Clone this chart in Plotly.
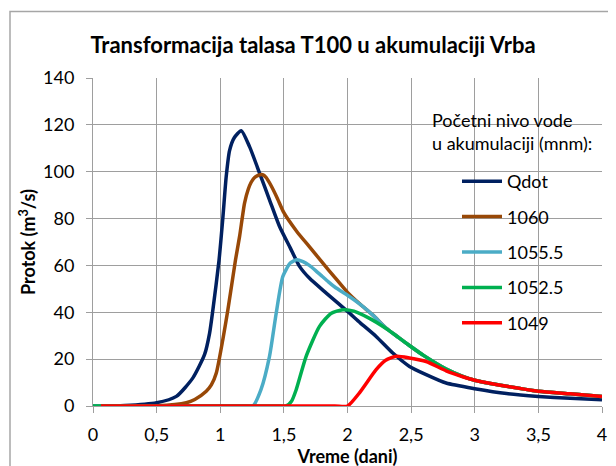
import plotly.graph_objects as go

# ---- data ----
qdot_t = [0, 0.25, 0.5, 0.655, 0.785, 0.877, 0.916, 0.942, 0.99, 1.02, 1.047, 1.073, 1.11, 1.165,
          1.23, 1.309, 1.387, 1.466, 1.55, 1.623, 1.7, 1.833, 2.0, 2.1, 2.225, 2.356, 2.487,
          2.618, 2.775, 3.0, 3.25, 3.5, 3.75, 4.0]
qdot_q = [0, 0.2, 1.4, 4.1, 12, 22, 31, 41, 62, 80, 98, 109, 114.5, 117.5,
          110.7, 99.4, 88, 76.6, 67.5, 59.6, 54.6, 48.2, 40.4, 35.5, 29.7, 22.6, 16.9,
          13.4, 9.8, 7.4, 5.3, 4.1, 3.3, 2.7]

h1060_t = [0, 0.5, 0.733, 0.8, 0.89, 0.93, 0.969, 1.02, 1.06, 1.12, 1.152, 1.191, 1.22, 1.243,
           1.27, 1.3, 1.333, 1.36, 1.4, 1.45, 1.5, 1.6, 1.7, 1.8, 1.9, 2.0, 2.1, 2.2, 2.3, 2.4,
           2.5, 2.6, 2.775, 2.9, 3.0, 3.25, 3.5, 3.75, 4.0]
h1060_q = [0, 0.1, 1.4, 2.8, 6.3, 9, 14.1, 28.3, 41.1, 62.4, 72.4, 86.6, 92.5, 95.5,
           97.5, 98.5, 98.7, 97.6, 94, 88.5, 82.5, 74.6, 68.0, 61.4, 54.9, 48.5, 43.4, 38.8, 33.4,
           29.3, 25.3, 21.5, 15.8, 12.8, 11.0, 8.4, 6.3, 5.2, 4.1]

h1055_t = [0, 1.2, 1.256, 1.32, 1.387, 1.44, 1.492, 1.55, 1.6, 1.65, 1.7, 1.75, 1.8, 1.85,
           1.9, 1.95, 2.0, 2.1, 2.2, 2.3, 2.4, 2.5, 2.6, 2.775, 2.9, 3.0, 3.25, 3.5, 3.75, 4.0]
h1055_q = [0, 0, 0, 7, 21.2, 39.7, 55.3, 61, 62.4, 61.6, 60.0, 57.8, 55.4, 53.0,
           50.8, 49.0, 47.3, 43.4, 38.8, 33.4, 29.3, 25.3, 21.5, 15.8, 12.8, 11.0, 8.4, 6.3,
           5.2, 4.1]

h1052_t = [0, 1.45, 1.518, 1.56, 1.597, 1.675, 1.78, 1.87, 1.963, 2.05, 2.173, 2.3, 2.4, 2.5,
           2.6, 2.775, 2.9, 3.0, 3.25, 3.5, 3.75, 4.0]
h1052_q = [0, 0, 0, 2, 7, 21.2, 34, 39.5, 41.1, 40.5, 37.4, 33.2, 29.3, 25.3,
           21.5, 15.8, 12.8, 11.0, 8.4, 6.3, 5.2, 4.1]

h1049_t = [0.0625, 1.9, 2.0, 2.094, 2.225, 2.3, 2.383, 2.487, 2.618, 2.775, 2.9, 3.0, 3.25, 3.5,
           3.75, 4.0]
h1049_q = [0, 0, 0, 5.6, 15.5, 19.5, 21.2, 20.5, 19, 15.0, 12.6, 11.0, 8.4, 6.3, 5.2, 4.1]

series_names = ["Qdot", "1060", "1055.5", "1052.5", "1049"]
series_colors = ["#002060", "#984807", "#4BACC6", "#00B050", "#FF0000"]
series_t = [qdot_t, h1060_t, h1055_t, h1052_t, h1049_t]
series_q = [qdot_q, h1060_q, h1055_q, h1052_q, h1049_q]

x_ticks = [0, 0.5, 1, 1.5, 2, 2.5, 3, 3.5, 4]
y_ticks = [0, 20, 40, 60, 80, 100, 120, 140]

title_text = "Transformacija talasa T100 u akumulaciji Vrba"
x_title = "Vreme (dani)"
y_title = "Protok (m<sup>3</sup>/s)"
legend_title = "Početni nivo vode<br>u akumulaciji (mnm):"

# ---- figure ----
FONT = "Lato"
W, H = 616, 466
OFF = 8  # page body margin offset
ML, MR, MT, MB = 85, 22, 70, 68
PW, PH = W - ML - MR, H - MT - MB

def px_x(p):  # reference page pixel -> paper x
    return (p - OFF - ML) / PW

def px_y(p):  # reference page pixel -> paper y
    return (H - MB - (p - OFF)) / PH

fig = go.Figure()
for name, color, t, q in zip(series_names, series_colors, series_t, series_q):
    fig.add_trace(go.Scatter(
        x=t, y=q, name=name, mode="lines", legendgroup=name,
        line=dict(color=color, width=3.5, shape="spline", smoothing=0.6),
    ))

grid = "#9e9e9e"
fig.update_layout(
    width=W, height=H,
    margin=dict(l=ML, r=MR, t=MT, b=MB, autoexpand=False),
    paper_bgcolor="white", plot_bgcolor="white",
    separators=", ",
    font=dict(family=FONT, size=18, color="black"),
    title=dict(text="<b>" + title_text + "</b>", x=(313 - OFF) / W, xref="container",
               xanchor="center", y=1 - (45 - OFF) / H, yref="container", yanchor="middle",
               font=dict(family=FONT, size=22, color="black")),
    xaxis=dict(range=[0, 4], tickvals=x_ticks, showgrid=True, gridcolor=grid, gridwidth=1,
               showline=True, linecolor=grid, linewidth=1, ticks="outside", ticklen=6,
               tickcolor=grid, zeroline=False, ticklabelstandoff=6, automargin=False,
               tickfont=dict(family=FONT, size=18, color="black"),
               title=dict(text="<b>" + x_title + "</b>", standoff=2,
                          font=dict(family=FONT, size=18, color="black"))),
    yaxis=dict(range=[0, 140], tickvals=y_ticks, showgrid=True, gridcolor=grid, gridwidth=1,
               showline=True, linecolor=grid, linewidth=1, ticks="outside", ticklen=6,
               tickcolor=grid, zeroline=False, ticklabelstandoff=8, automargin=False,
               tickfont=dict(family=FONT, size=18, color="black"),
               title=dict(text="<b>" + y_title + "</b>", standoff=2,
                          font=dict(family=FONT, size=18, color="black"))),
    legend=dict(x=px_x(457), y=px_y(163), xanchor="left", yanchor="top",
                bgcolor="rgba(0,0,0,0)", borderwidth=0, traceorder="grouped",
                tracegroupgap=9, itemwidth=40,
                font=dict(family=FONT, size=18, color="black")),
    annotations=[
        dict(text=legend_title, xref="paper", yref="paper", x=px_x(430), y=px_y(131.5),
             xanchor="left", yanchor="middle", align="left", showarrow=False,
             font=dict(family=FONT, size=18, color="black")),
    ],
    shapes=[
        # white legend box hiding grid
        dict(type="rect", xref="paper", yref="paper", x0=px_x(415), x1=px_x(593),
             y0=px_y(337), y1=px_y(97), fillcolor="white", line=dict(width=0), layer="between"),
        # outer chart border
        dict(type="rect", xref="paper", yref="paper", x0=px_x(10), x1=px_x(640),
             y0=px_y(490), y1=px_y(11.5), fillcolor="rgba(0,0,0,0)",
             line=dict(color="#a6a6a6", width=1.5), layer="above"),
    ],
)

fig.write_html("out.html")
